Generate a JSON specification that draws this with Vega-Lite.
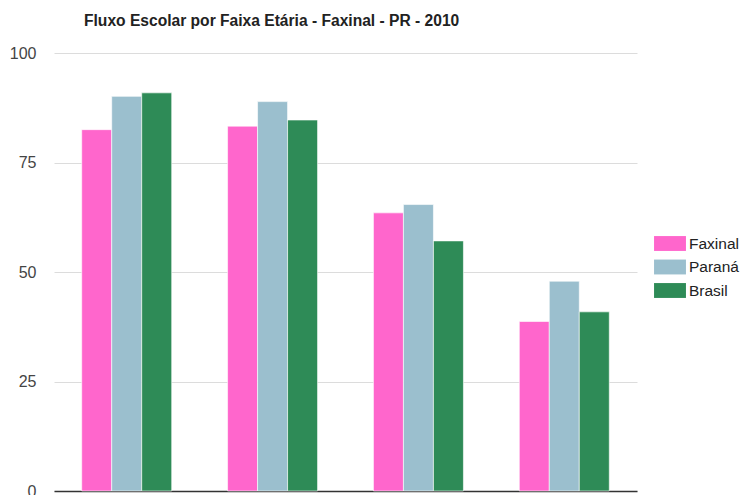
{
  "$schema": "https://vega.github.io/schema/vega-lite/v6.json",
  "width": 583,
  "height": 438,
  "autosize": {"type": "none"},
  "padding": {"left": 54, "top": 53, "right": 113, "bottom": 4},
  "background": "#ffffff",
  "title": {
    "text": "Fluxo Escolar por Faixa Etária - Faxinal - PR - 2010",
    "anchor": "start",
    "frame": "group",
    "baseline": "bottom",
    "offset": 0,
    "dx": 30,
    "font": "Liberation Sans",
    "fontSize": 15.6,
    "fontWeight": "bold",
    "color": "#222222"
  },
  "data": {
    "values": [
      {"faixa": "5 a 6 anos", "local": "Faxinal", "valor": 82.5},
      {"faixa": "5 a 6 anos", "local": "Paraná", "valor": 90.1},
      {"faixa": "5 a 6 anos", "local": "Brasil", "valor": 90.9},
      {"faixa": "11 a 13 anos", "local": "Faxinal", "valor": 83.3},
      {"faixa": "11 a 13 anos", "local": "Paraná", "valor": 88.9},
      {"faixa": "11 a 13 anos", "local": "Brasil", "valor": 84.7},
      {"faixa": "15 a 17 anos", "local": "Faxinal", "valor": 63.5},
      {"faixa": "15 a 17 anos", "local": "Paraná", "valor": 65.4},
      {"faixa": "15 a 17 anos", "local": "Brasil", "valor": 57.1},
      {"faixa": "18 a 20 anos", "local": "Faxinal", "valor": 38.7},
      {"faixa": "18 a 20 anos", "local": "Paraná", "valor": 47.9},
      {"faixa": "18 a 20 anos", "local": "Brasil", "valor": 40.9}
    ]
  },
  "mark": {"type": "bar", "stroke": "#ffffff", "strokeWidth": 1, "strokeOpacity": 0.6},
  "encoding": {
    "x": {
      "field": "faixa",
      "type": "nominal",
      "sort": ["5 a 6 anos", "11 a 13 anos", "15 a 17 anos", "18 a 20 anos"],
      "scale": {"paddingInner": 0.383, "paddingOuter": 0.19},
      "axis": {
        "title": null,
        "labels": false,
        "ticks": false,
        "domain": true,
        "domainColor": "#333333",
        "domainWidth": 1.5,
        "grid": false
      }
    },
    "xOffset": {
      "field": "local",
      "type": "nominal",
      "sort": ["Faxinal", "Paraná", "Brasil"],
      "scale": {"paddingInner": 0, "paddingOuter": 0}
    },
    "y": {
      "field": "valor",
      "type": "quantitative",
      "scale": {"domain": [0, 100], "nice": false},
      "axis": {
        "title": null,
        "values": [0, 25, 50, 75, 100],
        "domain": false,
        "ticks": false,
        "grid": true,
        "gridColor": "#dcdcdc",
        "gridWidth": 1,
        "labelFont": "Liberation Sans",
        "labelFontSize": 16,
        "labelColor": "#444444",
        "labelPadding": 18
      }
    },
    "color": {
      "field": "local",
      "type": "nominal",
      "sort": ["Faxinal", "Paraná", "Brasil"],
      "scale": {
        "domain": ["Faxinal", "Paraná", "Brasil"],
        "range": ["#ff66cc", "#9bbfce", "#2e8b57"]
      },
      "legend": {
        "title": null,
        "orient": "none",
        "legendX": 604,
        "legendY": 178.5,
        "padding": 0,
        "symbolType": "M-1.33,-0.62H1.33V0.62H-1.33Z",
        "symbolSize": 576,
        "symbolStrokeWidth": 0,
        "symbolOpacity": 1,
        "rowPadding": 2.5,
        "labelOffset": 7,
        "labelFont": "Liberation Sans",
        "labelFontSize": 15.5,
        "labelColor": "#222222"
      }
    }
  },
  "config": {"view": {"stroke": null}}
}
